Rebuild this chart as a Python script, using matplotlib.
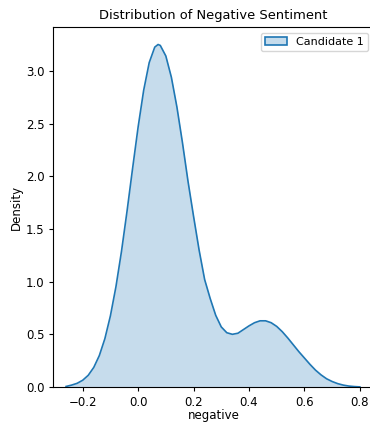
import matplotlib.pyplot as plt
from matplotlib.patches import Patch

# courbe de densité (valeur "negative", densité)
negative = [-0.26, -0.24, -0.22, -0.20, -0.18, -0.16, -0.14, -0.12, -0.10,
            -0.08, -0.06, -0.04, -0.02, 0.00, 0.02, 0.04, 0.06, 0.072,
            0.08, 0.10, 0.12, 0.14, 0.16, 0.18, 0.20, 0.22, 0.24, 0.26,
            0.28, 0.30, 0.32, 0.34, 0.36, 0.38, 0.40, 0.42, 0.44, 0.46,
            0.48, 0.50, 0.52, 0.54, 0.56, 0.58, 0.60, 0.62, 0.64, 0.66,
            0.68, 0.70, 0.72, 0.74, 0.76, 0.78, 0.80]
density = [0.005, 0.018, 0.035, 0.064, 0.111, 0.186, 0.298, 0.458, 0.675,
           0.952, 1.287, 1.668, 2.073, 2.467, 2.815, 3.078, 3.225, 3.25,
           3.241, 3.141, 2.939, 2.656, 2.318, 1.952, 1.62, 1.30, 1.02, 0.84,
           0.68, 0.57, 0.515, 0.50, 0.51, 0.545, 0.58, 0.61, 0.628, 0.628,
           0.61, 0.575, 0.525, 0.465, 0.40, 0.335, 0.275, 0.215, 0.16, 0.115,
           0.078, 0.052, 0.032, 0.018, 0.009, 0.004, 0.001]
label = "Candidate 1"

fig = plt.figure(figsize=(3.7, 4.24), dpi=100)
ax = fig.add_axes([53.3 / 370, 37 / 424, (374 - 53.3) / 370, 360 / 424])

ax.fill_between(negative, density, color="C0", alpha=0.25, linewidth=0)
ax.plot(negative, density, color="C0", linewidth=1.2)

ax.set_xlim(-0.306, 0.851)
ax.set_ylim(0, 3.416)
ax.set_xticks([-0.2, 0.0, 0.2, 0.4, 0.6, 0.8])
ax.set_yticks([0.0, 0.5, 1.0, 1.5, 2.0, 2.5, 3.0])
ax.tick_params(labelsize=8.5, length=3)

ax.set_title("Distribution of Negative Sentiment", fontsize=9.4)
ax.set_xlabel("negative", fontsize=8.5, labelpad=0)
ax.set_ylabel("Density", fontsize=8.5, labelpad=2)

poignee = Patch(facecolor=(0.122, 0.467, 0.706, 0.25), edgecolor="C0", linewidth=1.2)
ax.legend([poignee], [label], loc="upper right", fontsize=8)

fig.savefig("out.png", dpi=100)
